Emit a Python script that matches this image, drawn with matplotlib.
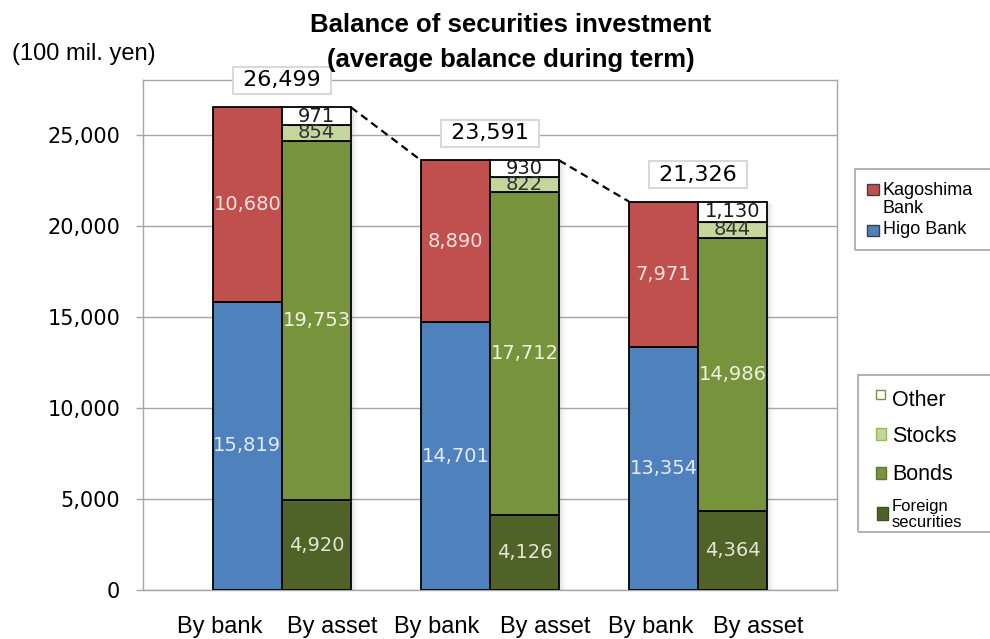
import numpy as np
import matplotlib
matplotlib.use("Agg")
import matplotlib.pyplot as plt
from matplotlib.patches import Rectangle
from matplotlib import patheffects as pe
from matplotlib.ticker import FuncFormatter

# ---- data (100 mil. yen) ----
bar_kinds = ["By bank", "By asset"]
bank_names = ["Higo Bank", "Kagoshima Bank"]
asset_names = ["Foreign securities", "Bonds", "Stocks", "Other"]

higo = [15819, 14701, 13354]
kagoshima = [10680, 8890, 7971]
foreign = [4920, 4126, 4364]
bonds = [19753, 17712, 14986]
stocks = [854, 822, 844]
other = [971, 930, 1130]
totals = [26499, 23591, 21326]
y_ticks = [0, 5000, 10000, 15000, 20000, 25000]

# ---- colours ----
RED, BLUE = "#C0504D", "#4F81BD"
FOREIGN_C, BONDS_C, STOCKS_C, OTHER_C = "#4F6228", "#77933C", "#C3D69B", "#FFFFFF"

SANS = ["Liberation Sans", "DejaVu Sans"]
NUM = ["DejaVu Sans"]

W, H = 990, 639
fig = plt.figure(figsize=(W / 100, H / 100), dpi=100)


def fx(px):
    return px / W


def fy(py):
    return 1 - py / H


ax = fig.add_axes([fx(143), fy(590), fx(837) - fx(143), fy(80) - fy(590)])

x = np.arange(len(totals))
w = 0.332
bank_x = x - w / 2
asset_x = x + w / 2

shadow = [
    pe.SimplePatchShadow(offset=(4, -1.5), shadow_rgbFace="0.5", alpha=0.08),
    pe.SimplePatchShadow(offset=(2.2, -1), shadow_rgbFace="0.5", alpha=0.12),
    pe.Normal(),
]


def stack(xpos, series):
    bottom = np.zeros(len(xpos))
    for values, color, label_color, size in series:
        vals = np.array(values, dtype=float)
        bars = ax.bar(xpos, vals, w, bottom=bottom, color=color,
                      edgecolor="black", linewidth=1.3, zorder=3)
        for b in bars:
            b.set_path_effects(shadow)
        ax.bar_label(bars, labels=[f"{v:,}" for v in values], label_type="center",
                     color=label_color, fontsize=size, family=NUM, zorder=5)
        bottom = bottom + vals
    return bottom


bank_top = stack(bank_x, [
    (higo, BLUE, "#E3EBF5", 14),
    (kagoshima, RED, "#F5E1E0", 14),
])
asset_top = stack(asset_x, [
    (foreign, FOREIGN_C, "#E1E8D3", 14),
    (bonds, BONDS_C, "#EEF3E2", 14),
    (stocks, STOCKS_C, "#333333", 14),
    (other, OTHER_C, "#1A1A1A", 14),
])

# dashed connectors between consecutive periods
for i in range(len(totals) - 1):
    ax.plot([asset_x[i] + w / 2, bank_x[i + 1] - w / 2],
            [asset_top[i], bank_top[i + 1]],
            color="black", linestyle=(0, (3.5, 2.2)), linewidth=1.6, zorder=4)

# boxed totals above each group
for i, t in enumerate(totals):
    ax.annotate(f" {t:,} ", xy=(x[i], t), xytext=(0, 19.4), textcoords="offset points",
                ha="center", va="center", fontsize=16, family=NUM, zorder=6,
                bbox=dict(boxstyle="square,pad=0.15", fc="white", ec="#D9D9D9", lw=1.5))

# axes styling
ax.set_xlim(-0.668, 2.668)
ax.set_ylim(0, 28000)
ax.set_yticks(y_ticks)
ax.yaxis.set_major_formatter(FuncFormatter(lambda v, _: f"{int(v):,}"))
ax.set_xticks([])
ax.yaxis.grid(True, color="#A6A6A6", linewidth=1)
ax.set_axisbelow(True)
for s in ax.spines.values():
    s.set_color("#A6A6A6")
    s.set_linewidth(1)
ax.tick_params(axis="y", length=5, color="#A6A6A6", width=1, pad=11.5, labelsize=15)
for lab in ax.get_yticklabels():
    lab.set_family(NUM)

# category labels under each bar
label_offsets = [(-0.298, 0.241), (-0.255, 0.265), (-0.226, 0.289)]
for i, (ob, oa) in enumerate(label_offsets):
    for off, txt in zip((ob, oa), bar_kinds):
        ax.annotate(txt, xy=(x[i] + off, 0), xycoords=("data", "axes fraction"),
                    xytext=(0, -43 * 0.72), textcoords="offset points",
                    ha="center", va="baseline", fontsize=17, family=SANS)

# title and unit
fig.text(fx(510.5), fy(31.7), "Balance of securities investment", ha="center",
         va="baseline", fontsize=18.5, fontweight="bold", family=SANS)
fig.text(fx(510.5), fy(66.7), "(average balance during term)", ha="center",
         va="baseline", fontsize=18.5, fontweight="bold", family=SANS)
fig.text(fx(12), fy(60), "(100 mil. yen)", ha="left", va="baseline",
         fontsize=17, family=SANS)


# ---- legends ----
def frame(x0, y0, x1, y1):
    fig.add_artist(Rectangle((fx(x0), fy(y1)), fx(x1) - fx(x0), fy(y0) - fy(y1),
                             transform=fig.transFigure, fill=False,
                             ec="#A6A6A6", lw=1.2))


def swatch(x0, y0, x1, y1, face, edge):
    fig.add_artist(Rectangle((fx(x0), fy(y1)), fx(x1) - fx(x0), fy(y0) - fy(y1),
                             transform=fig.transFigure, fc=face, ec=edge, lw=1))


def ltext(px, py, s, size):
    fig.text(fx(px), fy(py), s, ha="left", va="baseline", fontsize=size, family=SANS)


frame(855, 169, 1000, 250)
swatch(867, 184, 879, 195, RED, "#404040")
ltext(883, 195, "Kagoshima", 13)
ltext(883, 213, "Bank", 13)
swatch(867, 225, 879, 236, BLUE, "#404040")
ltext(883, 234, bank_names[0], 13)

frame(858, 375, 1000, 532)
swatch(876, 390, 885, 399, OTHER_C, BONDS_C)
ltext(892, 405.5, asset_names[3], 15.5)
swatch(876, 428, 886, 440, STOCKS_C, "#98B954")
ltext(892, 442.5, asset_names[2], 15.5)
swatch(876, 467, 886, 479, BONDS_C, "#5E7530")
ltext(892, 480.5, asset_names[1], 15.5)
swatch(877, 507, 888, 520, FOREIGN_C, "#3F4F20")
ltext(892, 510.5, "Foreign", 12)
ltext(892, 527, "securities", 12)

fig.savefig("out.png", dpi=100)
